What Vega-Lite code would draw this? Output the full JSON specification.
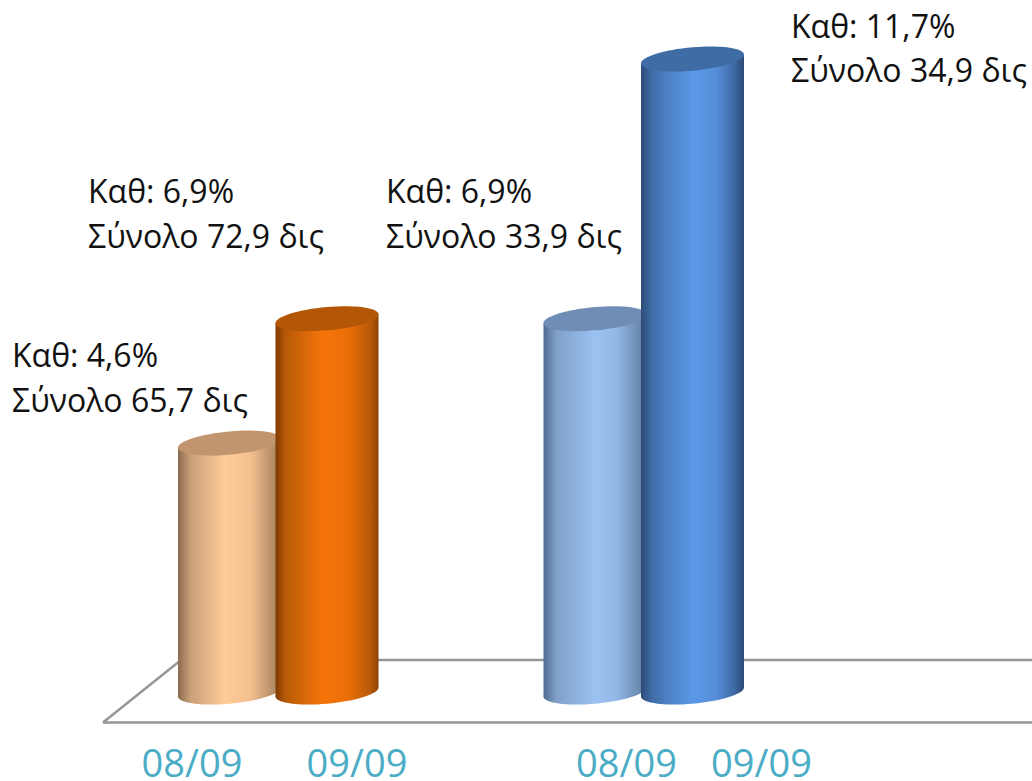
{
 "$schema":"https://vega.github.io/schema/vega-lite/v6.json",
 "width":1032,"height":781,
 "autosize":{"type":"none"},
 "padding":0,
 "background":"white",
 "config":{"view":{"stroke":null}},
 "datasets":{
  "bars":[
   {"series":"a","period":"08/09","group":"Group 1","pct":4.6,"total":65.7,"center":229.5,"base":0,"labelAt":192},
   {"series":"b","period":"09/09","group":"Group 1","pct":6.9,"total":72.9,"center":327,"base":0,"labelAt":357},
   {"series":"c","period":"08/09","group":"Group 2","pct":6.9,"total":33.9,"center":595,"base":0,"labelAt":626.5},
   {"series":"d","period":"09/09","group":"Group 2","pct":11.7,"total":34.9,"center":692.5,"base":0,"labelAt":761.5}
  ],
  "bodies":[
   {"series":"a","px":178,"top":4.517,"bottom":-0.083},{"series":"a","px":281,"top":4.683,"bottom":0.083},
   {"series":"b","px":275.5,"top":6.817,"bottom":-0.083},{"series":"b","px":378.5,"top":6.983,"bottom":0.083},
   {"series":"c","px":543.5,"top":6.817,"bottom":-0.083},{"series":"c","px":646.5,"top":6.983,"bottom":0.083},
   {"series":"d","px":641,"top":11.617,"bottom":-0.083},{"series":"d","px":744,"top":11.783,"bottom":0.083}
  ],
  "floor":[
   {"part":"front","px":103,"v":-0.564},{"part":"front","px":1032,"v":-0.564},
   {"part":"back","px":103,"v":-0.564},{"part":"back","px":181,"v":0.59},{"part":"back","px":1032,"v":0.59}
  ],
  "labels":[
   {"t":"Καθ: 4,6%","px":12,"v":6.01},{"t":"Σύνολο 65,7 δις","px":12,"v":5.18},
   {"t":"Καθ: 6,9%","px":88,"v":9.04},{"t":"Σύνολο 72,9 δις","px":88,"v":8.21},
   {"t":"Καθ: 6,9%","px":386,"v":9.04},{"t":"Σύνολο 33,9 δις","px":386,"v":8.21},
   {"t":"Καθ: 11,7%","px":791,"v":12.09},{"t":"Σύνολο 34,9 δις","px":791,"v":11.28}
  ]
 },
 "encoding":{
  "x":{"type":"quantitative","axis":null,"scale":{"domain":[0,1032],"nice":false,"zero":false}},
  "y":{"type":"quantitative","axis":null,"scale":{"domain":[-1.645,12.79],"nice":false,"zero":false}}
 },
 "layer":[
  {"data":{"name":"floor"},"mark":{"type":"line","color":"#969696","strokeWidth":2.5,"strokeJoin":"miter"},
   "encoding":{"x":{"field":"px","type":"quantitative"},"y":{"field":"v","type":"quantitative"},"detail":{"field":"part"},"order":{"field":"px"}}},

  {"data":{"name":"bodies"},"transform":[{"filter":"datum.series=='a'"}],
   "mark":{"type":"area","orient":"vertical","color":{"gradient":"linear","x1":0,"x2":1,"y1":0,"y2":0,"stops":[{"offset":0,"color":"#8a6a4e"},{"offset":0.12,"color":"#c9a078"},{"offset":0.45,"color":"#ffcb99"},{"offset":0.7,"color":"#f5c08f"},{"offset":1,"color":"#a07c5a"}]}},
   "encoding":{"x":{"field":"px","type":"quantitative"},"y":{"field":"top","type":"quantitative"},"y2":{"field":"bottom"}}},
  {"data":{"name":"bars"},"transform":[{"filter":"datum.series=='a'"}],
   "mark":{"type":"point","filled":true,"opacity":1,"size":10609,"shape":"M-1,0.0874 C-1,-0.038 -0.5523,-0.1787 0,-0.227 C0.5523,-0.2753 1,-0.2128 1,-0.0874 C1,0.038 0.5523,0.1787 0,0.227 C-0.5523,0.2753 -1,0.2128 -1,0.0874 Z","color":{"gradient":"linear","x1":0,"x2":1,"y1":0,"y2":0,"stops":[{"offset":0,"color":"#8a6a4e"},{"offset":0.12,"color":"#c9a078"},{"offset":0.45,"color":"#ffcb99"},{"offset":0.7,"color":"#f5c08f"},{"offset":1,"color":"#a07c5a"}]}},
   "encoding":{"x":{"field":"center","type":"quantitative"},"y":{"field":"base","type":"quantitative"}}},
  {"data":{"name":"bars"},"transform":[{"filter":"datum.series=='a'"}],
   "mark":{"type":"point","filled":true,"opacity":1,"size":10609,"shape":"M-1,0.0874 C-1,-0.038 -0.5523,-0.1787 0,-0.227 C0.5523,-0.2753 1,-0.2128 1,-0.0874 C1,0.038 0.5523,0.1787 0,0.227 C-0.5523,0.2753 -1,0.2128 -1,0.0874 Z","color":"#c1966f"},
   "encoding":{"x":{"field":"center","type":"quantitative"},"y":{"field":"pct","type":"quantitative"}}},

  {"data":{"name":"bodies"},"transform":[{"filter":"datum.series=='b'"}],
   "mark":{"type":"area","orient":"vertical","color":{"gradient":"linear","x1":0,"x2":1,"y1":0,"y2":0,"stops":[{"offset":0,"color":"#7f3a03"},{"offset":0.1,"color":"#b85a07"},{"offset":0.45,"color":"#f5730a"},{"offset":0.7,"color":"#ec6e09"},{"offset":0.92,"color":"#b85a07"},{"offset":1,"color":"#8a4304"}]}},
   "encoding":{"x":{"field":"px","type":"quantitative"},"y":{"field":"top","type":"quantitative"},"y2":{"field":"bottom"}}},
  {"data":{"name":"bars"},"transform":[{"filter":"datum.series=='b'"}],
   "mark":{"type":"point","filled":true,"opacity":1,"size":10609,"shape":"M-1,0.0874 C-1,-0.038 -0.5523,-0.1787 0,-0.227 C0.5523,-0.2753 1,-0.2128 1,-0.0874 C1,0.038 0.5523,0.1787 0,0.227 C-0.5523,0.2753 -1,0.2128 -1,0.0874 Z","color":{"gradient":"linear","x1":0,"x2":1,"y1":0,"y2":0,"stops":[{"offset":0,"color":"#7f3a03"},{"offset":0.1,"color":"#b85a07"},{"offset":0.45,"color":"#f5730a"},{"offset":0.7,"color":"#ec6e09"},{"offset":0.92,"color":"#b85a07"},{"offset":1,"color":"#8a4304"}]}},
   "encoding":{"x":{"field":"center","type":"quantitative"},"y":{"field":"base","type":"quantitative"}}},
  {"data":{"name":"bars"},"transform":[{"filter":"datum.series=='b'"}],
   "mark":{"type":"point","filled":true,"opacity":1,"size":10609,"shape":"M-1,0.0874 C-1,-0.038 -0.5523,-0.1787 0,-0.227 C0.5523,-0.2753 1,-0.2128 1,-0.0874 C1,0.038 0.5523,0.1787 0,0.227 C-0.5523,0.2753 -1,0.2128 -1,0.0874 Z","color":"#b35606"},
   "encoding":{"x":{"field":"center","type":"quantitative"},"y":{"field":"pct","type":"quantitative"}}},

  {"data":{"name":"bodies"},"transform":[{"filter":"datum.series=='c'"}],
   "mark":{"type":"area","orient":"vertical","color":{"gradient":"linear","x1":0,"x2":1,"y1":0,"y2":0,"stops":[{"offset":0,"color":"#4d6b8f"},{"offset":0.12,"color":"#7f9fc8"},{"offset":0.5,"color":"#9cc2f2"},{"offset":0.7,"color":"#93b8e8"},{"offset":1,"color":"#5f7c9f"}]}},
   "encoding":{"x":{"field":"px","type":"quantitative"},"y":{"field":"top","type":"quantitative"},"y2":{"field":"bottom"}}},
  {"data":{"name":"bars"},"transform":[{"filter":"datum.series=='c'"}],
   "mark":{"type":"point","filled":true,"opacity":1,"size":10609,"shape":"M-1,0.0874 C-1,-0.038 -0.5523,-0.1787 0,-0.227 C0.5523,-0.2753 1,-0.2128 1,-0.0874 C1,0.038 0.5523,0.1787 0,0.227 C-0.5523,0.2753 -1,0.2128 -1,0.0874 Z","color":{"gradient":"linear","x1":0,"x2":1,"y1":0,"y2":0,"stops":[{"offset":0,"color":"#4d6b8f"},{"offset":0.12,"color":"#7f9fc8"},{"offset":0.5,"color":"#9cc2f2"},{"offset":0.7,"color":"#93b8e8"},{"offset":1,"color":"#5f7c9f"}]}},
   "encoding":{"x":{"field":"center","type":"quantitative"},"y":{"field":"base","type":"quantitative"}}},
  {"data":{"name":"bars"},"transform":[{"filter":"datum.series=='c'"}],
   "mark":{"type":"point","filled":true,"opacity":1,"size":10609,"shape":"M-1,0.0874 C-1,-0.038 -0.5523,-0.1787 0,-0.227 C0.5523,-0.2753 1,-0.2128 1,-0.0874 C1,0.038 0.5523,0.1787 0,0.227 C-0.5523,0.2753 -1,0.2128 -1,0.0874 Z","color":"#6f8db5"},
   "encoding":{"x":{"field":"center","type":"quantitative"},"y":{"field":"pct","type":"quantitative"}}},

  {"data":{"name":"bodies"},"transform":[{"filter":"datum.series=='d'"}],
   "mark":{"type":"area","orient":"vertical","color":{"gradient":"linear","x1":0,"x2":1,"y1":0,"y2":0,"stops":[{"offset":0,"color":"#2c4a75"},{"offset":0.1,"color":"#3f6ba6"},{"offset":0.25,"color":"#4d80c3"},{"offset":0.5,"color":"#5b98e6"},{"offset":0.72,"color":"#5690dc"},{"offset":0.9,"color":"#3f6ba6"},{"offset":1,"color":"#2c4a75"}]}},
   "encoding":{"x":{"field":"px","type":"quantitative"},"y":{"field":"top","type":"quantitative"},"y2":{"field":"bottom"}}},
  {"data":{"name":"bars"},"transform":[{"filter":"datum.series=='d'"}],
   "mark":{"type":"point","filled":true,"opacity":1,"size":10609,"shape":"M-1,0.0874 C-1,-0.038 -0.5523,-0.1787 0,-0.227 C0.5523,-0.2753 1,-0.2128 1,-0.0874 C1,0.038 0.5523,0.1787 0,0.227 C-0.5523,0.2753 -1,0.2128 -1,0.0874 Z","color":{"gradient":"linear","x1":0,"x2":1,"y1":0,"y2":0,"stops":[{"offset":0,"color":"#2c4a75"},{"offset":0.1,"color":"#3f6ba6"},{"offset":0.25,"color":"#4d80c3"},{"offset":0.5,"color":"#5b98e6"},{"offset":0.72,"color":"#5690dc"},{"offset":0.9,"color":"#3f6ba6"},{"offset":1,"color":"#2c4a75"}]}},
   "encoding":{"x":{"field":"center","type":"quantitative"},"y":{"field":"base","type":"quantitative"}}},
  {"data":{"name":"bars"},"transform":[{"filter":"datum.series=='d'"}],
   "mark":{"type":"point","filled":true,"opacity":1,"size":10609,"shape":"M-1,0.0874 C-1,-0.038 -0.5523,-0.1787 0,-0.227 C0.5523,-0.2753 1,-0.2128 1,-0.0874 C1,0.038 0.5523,0.1787 0,0.227 C-0.5523,0.2753 -1,0.2128 -1,0.0874 Z","color":"#406ca6"},
   "encoding":{"x":{"field":"center","type":"quantitative"},"y":{"field":"pct","type":"quantitative"}}},

  {"data":{"name":"bars"},"mark":{"type":"text","font":"Open Sans","fontSize":38,"color":"#4bacc6","align":"center","baseline":"alphabetic"},
   "encoding":{"x":{"field":"labelAt","type":"quantitative"},"y":{"datum":-1.571,"type":"quantitative"},"text":{"field":"period"}}},
  {"data":{"name":"labels"},"mark":{"type":"text","font":"Open Sans","fontSize":32,"color":"#111111","align":"left","baseline":"alphabetic"},
   "encoding":{"x":{"field":"px","type":"quantitative"},"y":{"field":"v","type":"quantitative"},"text":{"field":"t"}}}
 ]
}
